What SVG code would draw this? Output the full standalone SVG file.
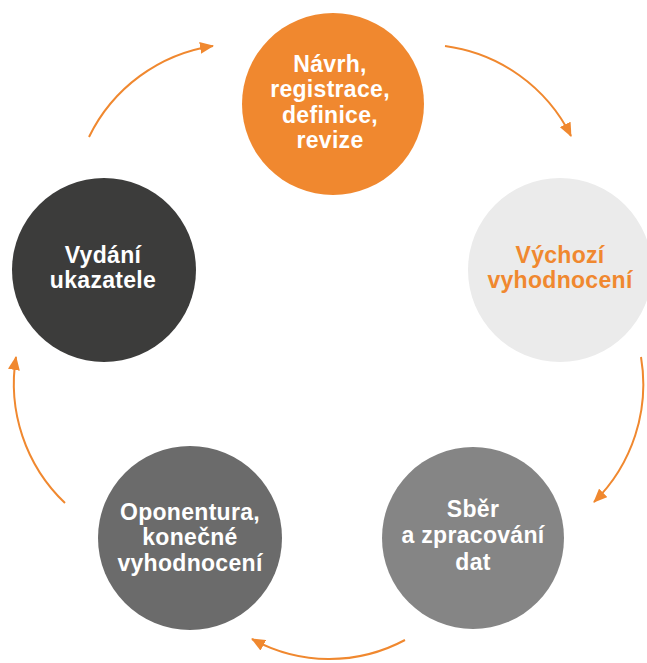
<svg xmlns="http://www.w3.org/2000/svg" width="647" height="663" viewBox="0 0 647 663">
<style>
  .lbl { font-family: "Liberation Sans", Arial, sans-serif; font-weight: bold; font-size: 23px; text-anchor: middle; fill: #FFFFFF; letter-spacing: 0.3px; }
  .org { fill: #F0882F; }
  .conn { fill: none; stroke: #F0882F; stroke-width: 2; }
</style>
<defs>
  <marker id="ah" markerUnits="userSpaceOnUse" markerWidth="14" markerHeight="12" refX="13" refY="6" orient="auto">
    <path d="M0,0 L14,6 L0,12 z" fill="#F0882F"/>
  </marker>
</defs>
<rect width="647" height="663" fill="#FFFFFF"/>
<g id="connectors">
  <path class="conn" d="M89,137 A165,165 0 0 1 213,46" marker-end="url(#ah)"/>
  <path class="conn" d="M445,46 A165,165 0 0 1 571,136" marker-end="url(#ah)"/>
  <path class="conn" d="M641,357 A165,165 0 0 1 594,502" marker-end="url(#ah)"/>
  <path class="conn" d="M405,640 A160,160 0 0 1 252,639" marker-end="url(#ah)"/>
  <path class="conn" d="M65,503 A165,165 0 0 1 16,357" marker-end="url(#ah)"/>
</g>
<g id="node-navrh">
  <circle cx="333" cy="104" r="91" fill="#F0882F"/>
  <text class="lbl" x="330" y="72">Návrh,</text>
  <text class="lbl" x="330" y="97">registrace,</text>
  <text class="lbl" x="330" y="123">definice,</text>
  <text class="lbl" x="330" y="148">revize</text>
</g>
<g id="node-vychozi">
  <circle cx="560" cy="270" r="92" fill="#EBEBEB"/>
  <text class="lbl org" x="560" y="263">Výchozí</text>
  <text class="lbl org" x="560" y="288">vyhodnocení</text>
</g>
<g id="node-sber">
  <circle cx="473" cy="538" r="91" fill="#858585"/>
  <text class="lbl" x="473" y="517">Sběr</text>
  <text class="lbl" x="473" y="543">a zpracování</text>
  <text class="lbl" x="473" y="570">dat</text>
</g>
<g id="node-oponentura">
  <circle cx="190" cy="538" r="92" fill="#6B6B6B"/>
  <text class="lbl" x="190" y="520">Oponentura,</text>
  <text class="lbl" x="190" y="545">konečné</text>
  <text class="lbl" x="190" y="571">vyhodnocení</text>
</g>
<g id="node-vydani">
  <circle cx="104" cy="270" r="92" fill="#3C3C3B"/>
  <text class="lbl" x="103" y="263">Vydání</text>
  <text class="lbl" x="103" y="288">ukazatele</text>
</g>
</svg>
